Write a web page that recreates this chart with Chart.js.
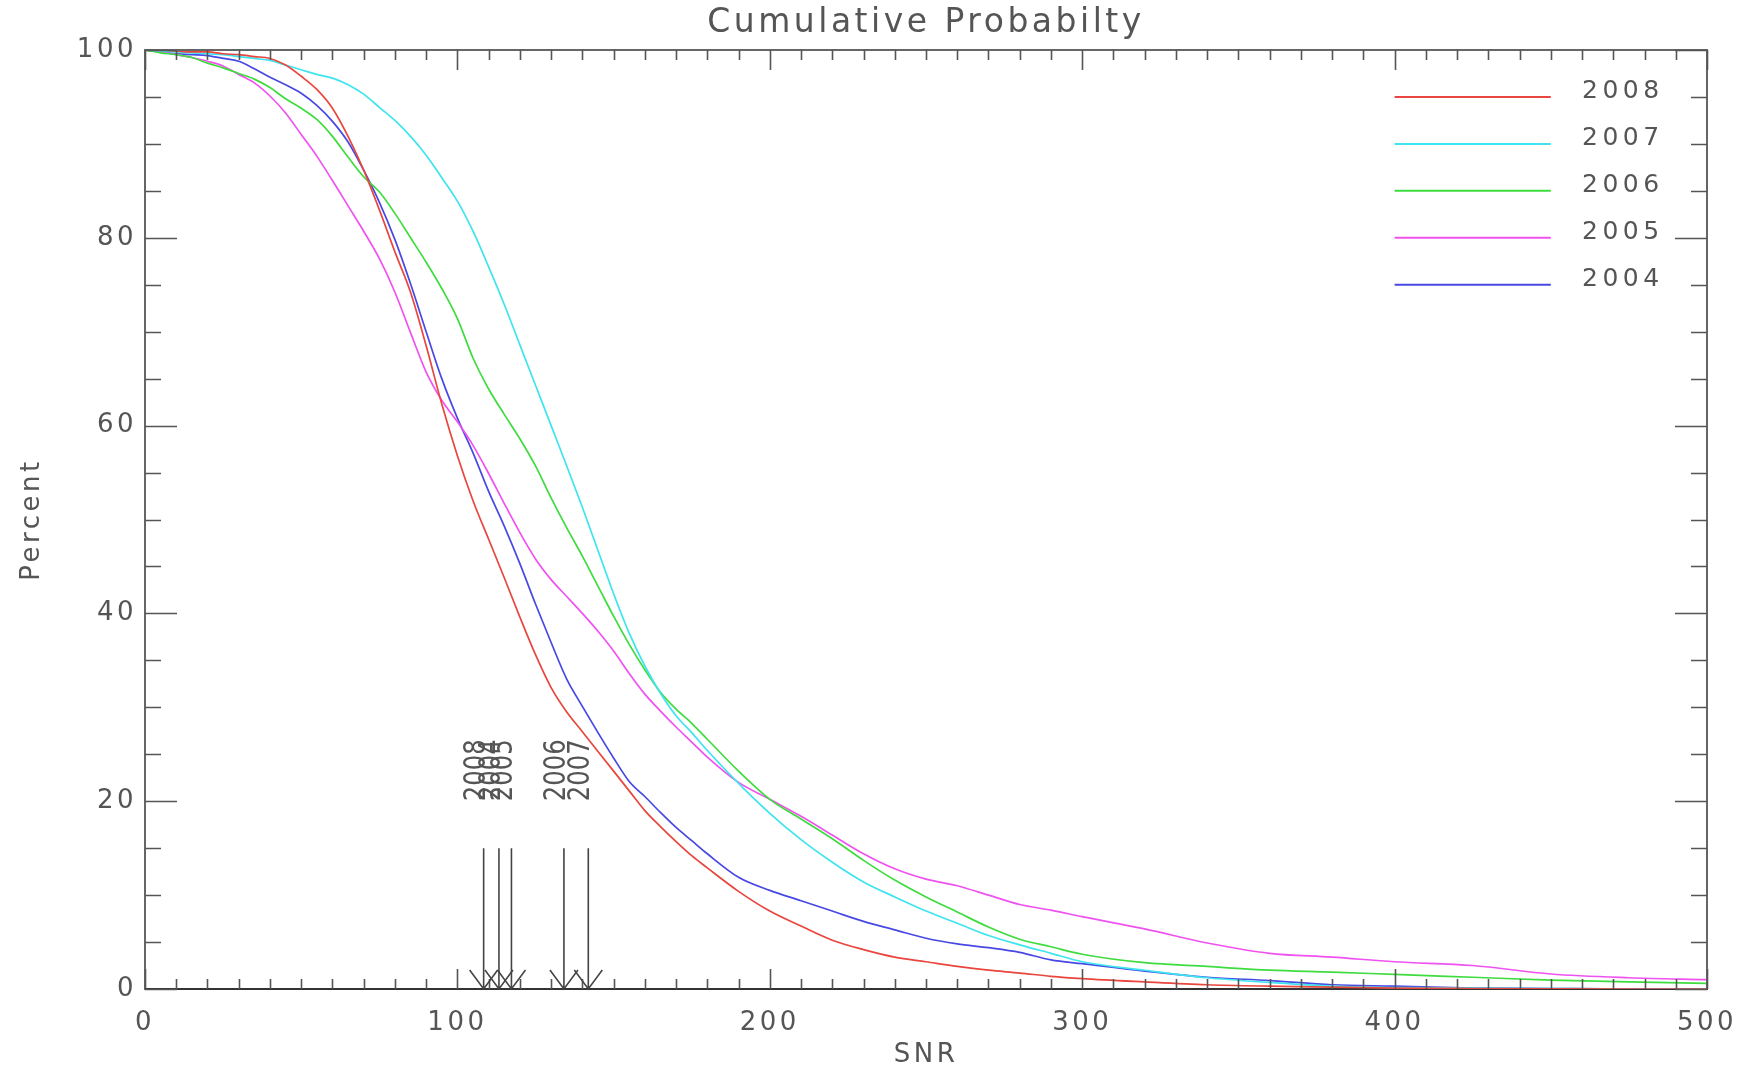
<!DOCTYPE html>
<html><head><meta charset="utf-8">
<script src="https://cdn.jsdelivr.net/npm/chart.js@4/dist/chart.umd.min.js"></script>
<style>html,body{margin:0;padding:0;background:#fff;}#wrap{width:1748px;height:1074px;}</style>
</head><body><div id="wrap"><canvas id="c" width="1748" height="1074"></canvas></div>
<script>
// ---- data ----
const snr = [0,5,10,15,20,25,30,35,40,45,50,55,60,65,70,75,80,85,90,95,100,105,110,115,120,125,130,135,140,145,150,155,160,165,170,175,180,190,200,210,220,230,240,250,260,270,280,290,300,320,340,360,380,400,425,450,475,500];
const pct2008 = [100,100,99.9,99.8,99.8,99.6,99.5,99.3,99.1,98.4,97.2,95.8,93.8,90.8,87.2,83.0,78.5,74.2,68.5,62.3,56.8,52.0,47.9,43.8,39.6,35.6,32.1,29.5,27.4,25.3,23.2,21.1,19.0,17.3,15.7,14.2,12.9,10.4,8.3,6.7,5.2,4.2,3.4,2.9,2.4,2.0,1.7,1.35,1.1,0.75,0.45,0.3,0.2,0.1,0.05,0.02,0,0];
const pct2007 = [100,99.9,99.8,99.7,99.6,99.5,99.3,99.1,98.9,98.4,97.9,97.4,97.0,96.3,95.3,93.9,92.5,90.8,88.8,86.4,83.9,80.7,76.9,72.9,68.6,64.3,60.0,55.7,51.3,46.7,42.1,37.9,34.4,31.5,29.1,27.3,25.4,21.9,18.7,15.9,13.5,11.4,9.8,8.3,7.0,5.7,4.7,3.8,2.9,2.0,1.2,0.7,0.3,0.15,0.1,0.05,0,0];
const pct2006 = [100,99.7,99.5,99.2,98.6,98.1,97.5,96.9,96.0,94.8,93.8,92.6,90.8,88.6,86.5,84.9,82.6,80.0,77.4,74.6,71.4,67.2,63.9,61.2,58.6,55.7,52.3,49.1,46.1,42.9,39.7,36.7,34.0,31.6,29.8,28.3,26.6,23.2,20.2,18.1,16.0,13.7,11.6,9.8,8.2,6.6,5.3,4.5,3.7,2.8,2.4,2.0,1.8,1.55,1.25,0.95,0.75,0.6];
const pct2005 = [100,99.8,99.5,99.2,98.8,98.3,97.4,96.5,95.1,93.3,91.0,88.7,86.1,83.4,80.7,77.8,74.2,69.9,65.7,62.7,60.4,57.9,54.9,51.7,48.6,45.8,43.6,41.8,40.0,38.1,36.0,33.6,31.4,29.6,27.9,26.3,24.7,22.0,20.2,18.4,16.4,14.4,12.8,11.7,11.0,10.0,9.0,8.4,7.7,6.4,4.9,3.8,3.4,2.9,2.5,1.6,1.2,1.0];
const pct2004 = [100,99.8,99.6,99.5,99.4,99.1,98.8,98.0,97.1,96.3,95.4,94.1,92.4,90.2,87.2,83.8,79.8,75.1,70.0,65.0,60.8,57.1,53.0,49.3,45.3,41.0,36.9,33.0,30.1,27.3,24.6,22.1,20.5,18.8,17.2,15.8,14.4,11.9,10.5,9.4,8.3,7.2,6.3,5.4,4.8,4.4,3.9,3.1,2.7,1.9,1.25,0.9,0.45,0.3,0.1,0.05,0,0];
const years = ['2008','2007','2006','2005','2004'];
const seriesColors = ['#e8463e','#3ee4ee','#3edc3e','#f052f0','#4848e4'];
const markerSNR = [108.4,113.3,117.3,134.1,141.9];
const markerLabels = ['2008','2004','2005','2006','2007'];
const xTickStep = 100, yTickStep = 20;

const allPct = [pct2008,pct2007,pct2006,pct2005,pct2004];
const FONT = "'DejaVu Sans', sans-serif";
const GREY = '#555';

const idlFrame = {
  id: 'idlFrame',
  beforeDraw(chart){ chart.ctx.letterSpacing = '3.5px'; },
  afterDatasetsDraw(chart){
    const {ctx, chartArea: a, scales: {x, y}} = chart;
    ctx.save();
    ctx.strokeStyle = '#666'; ctx.lineWidth = 2;
    ctx.beginPath();
    ctx.moveTo(a.left, a.top); ctx.lineTo(a.right, a.top); ctx.lineTo(a.right, a.bottom);
    ctx.stroke();
    ctx.lineWidth = 1.6; ctx.strokeStyle = '#555';
    ctx.beginPath();
    for (let v = x.min; v <= x.max + 1e-6; v += xTickStep / 10) {
      const px = Math.round(x.getPixelForValue(v)) + 0.5;
      const major = Math.abs(v / xTickStep - Math.round(v / xTickStep)) < 1e-6;
      const L = major ? 20 : 10;
      ctx.moveTo(px, a.bottom); ctx.lineTo(px, a.bottom - L);
      ctx.moveTo(px, a.top); ctx.lineTo(px, a.top + L);
    }
    for (let v = y.min; v <= y.max + 1e-6; v += yTickStep / 4) {
      const py = Math.round(y.getPixelForValue(v)) + 0.5;
      const major = Math.abs(v / yTickStep - Math.round(v / yTickStep)) < 1e-6;
      const L = major ? 32 : 16;
      ctx.moveTo(a.left, py); ctx.lineTo(a.left + L, py);
      ctx.moveTo(a.right, py); ctx.lineTo(a.right - L, py);
    }
    ctx.stroke();

    ctx.font = '25px ' + FONT;
    ctx.letterSpacing = '4.5px';
    ctx.textAlign = 'left'; ctx.textBaseline = 'alphabetic';
    chart.data.datasets.forEach((ds, i) => {
      const ly = y.getPixelForValue(95 - 5 * i);
      ctx.strokeStyle = ds.borderColor; ctx.lineWidth = 2;
      ctx.beginPath();
      ctx.moveTo(x.getPixelForValue(400), ly); ctx.lineTo(x.getPixelForValue(450), ly);
      ctx.stroke();
      ctx.fillStyle = GREY;
      ctx.fillText(ds.label, x.getPixelForValue(460), ly + 1);
    });

    ctx.letterSpacing = '0px';
    ctx.strokeStyle = '#444'; ctx.lineWidth = 1.6; ctx.fillStyle = '#555';
    markerSNR.forEach((v, i) => {
      const px = x.getPixelForValue(v);
      const yTop = y.getPixelForValue(15), yBot = y.getPixelForValue(0);
      ctx.beginPath();
      ctx.moveTo(px, yTop); ctx.lineTo(px, yBot);
      ctx.moveTo(px - 14, yBot - 19); ctx.lineTo(px, yBot); ctx.lineTo(px + 14, yBot - 19);
      ctx.stroke();
      ctx.save();
      ctx.translate(px + 1, y.getPixelForValue(20));
      ctx.rotate(-Math.PI / 2);
      ctx.scale(0.81, 1);
      ctx.font = '30px ' + FONT;
      ctx.textAlign = 'left'; ctx.textBaseline = 'alphabetic';
      ctx.fillText(markerLabels[i], 0, 0);
      ctx.restore();
    });
    ctx.restore();
  }
};

new Chart(document.getElementById('c'), {
  type: 'line',
  data: {
    datasets: years.map((yr, i) => ({
      label: yr,
      data: snr.map((s, k) => ({x: s, y: allPct[i][k]})),
      borderColor: seriesColors[i],
      backgroundColor: seriesColors[i],
      borderWidth: 1.7,
      pointRadius: 0,
      cubicInterpolationMode: 'monotone',
      fill: false
    }))
  },
  options: {
    responsive: false,
    animation: false,
    devicePixelRatio: 1,
    layout: {padding: {left: 0, right: 41, top: 0, bottom: 0}},
    plugins: {
      legend: {display: false},
      tooltip: {enabled: false},
      title: {
        display: true, fullSize: false, text: 'Cumulative Probabilty', color: GREY,
        font: {family: FONT, size: 33, weight: 'normal'},
        padding: {top: 4, bottom: 6.4}
      }
    },
    scales: {
      x: {
        type: 'linear', min: 0, max: 500,
        ticks: {stepSize: xTickStep, color: GREY, font: {family: FONT, size: 26}, padding: 12, autoSkip: false, maxRotation: 0},
        grid: {display: true, drawOnChartArea: false, drawTicks: true, tickLength: 7, tickColor: 'rgba(0,0,0,0)'},
        border: {display: true, color: '#333', width: 2},
        title: {display: true, text: 'SNR', color: GREY, font: {family: FONT, size: 26}, padding: {top: 0, bottom: 3}},
        afterFit(s){ s.height = 85; }
      },
      y: {
        type: 'linear', min: 0, max: 100,
        ticks: {stepSize: yTickStep, color: GREY, font: {family: FONT, size: 26}, padding: 8},
        grid: {display: true, drawOnChartArea: false, drawTicks: false},
        border: {display: true, color: '#666', width: 2},
        title: {display: true, text: 'Percent', color: GREY, font: {family: FONT, size: 26}, padding: {top: 17, bottom: 0}},
        afterFit(s){ s.width = 145; }
      }
    }
  },
  plugins: [idlFrame]
});
</script></body></html>
